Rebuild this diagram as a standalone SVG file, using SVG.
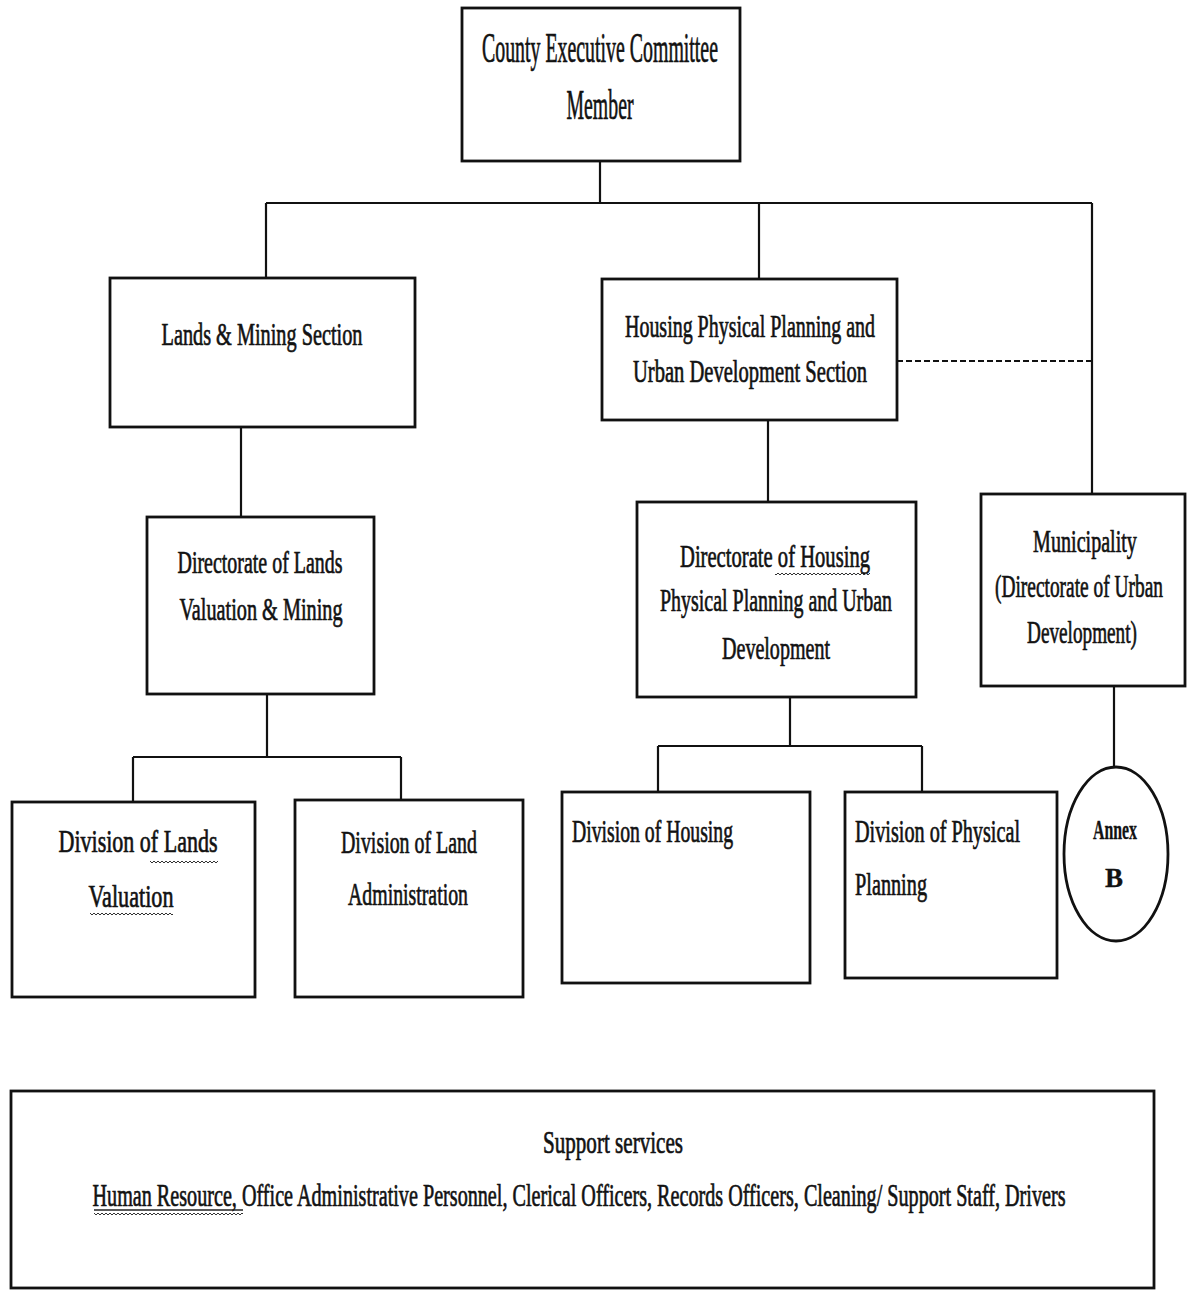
<svg xmlns="http://www.w3.org/2000/svg" width="1189" height="1296" viewBox="0 0 1189 1296">
  <style>
    .box { fill: #ffffff; stroke: #111111; stroke-width: 2.8; }
    .link { fill: none; stroke: #111111; stroke-width: 2.2; }
    .dashed { stroke-dasharray: 6 3; }
    .lbl { font-family: "Liberation Serif", "Times New Roman", serif; font-size: 32px; fill: #121212; stroke: #121212; stroke-width: 0.7; text-anchor: middle; }
    .left { text-anchor: start; }
    .big { font-size: 42px; }
    .small { font-size: 27px; font-weight: bold; stroke-width: 0.3; }
    .ul { stroke: #222222; stroke-width: 1.3; fill: none; }
  </style>
  <defs>
    <!-- zig-zag used for the proofing squiggles under some words -->
    <pattern id="wave" width="4" height="4" patternUnits="userSpaceOnUse">
      <path d="M0,3 L2,1 L4,3" fill="none" stroke="#333333" stroke-width="1"/>
    </pattern>
  </defs>

  <rect width="1189" height="1296" fill="#ffffff"/>

  <!-- connectors -->
  <g id="connectors">
    <path class="link" d="M600,161 V203"/>
    <path class="link" d="M266,203 H1092"/>
    <path class="link" d="M266,203 V278"/>
    <path class="link" d="M759,203 V279"/>
    <path class="link" d="M1092,203 V494"/>
    <path class="link dashed" d="M897,361 H1092"/>
    <path class="link" d="M241,427 V517"/>
    <path class="link" d="M768,420 V502"/>
    <path class="link" d="M267,694 V757 M133,757 H401 M133,757 V802 M401,757 V800"/>
    <path class="link" d="M790,697 V746 M658,746 H922 M658,746 V792 M922,746 V792"/>
    <path class="link" d="M1114,686 V767"/>
  </g>

  <g id="cec-member">
    <rect class="box" x="462" y="8" width="278" height="153"/>
    <text class="lbl big" x="600" y="62" textLength="236" lengthAdjust="spacingAndGlyphs">County Executive Committee</text>
    <text class="lbl big" x="600" y="119" textLength="67" lengthAdjust="spacingAndGlyphs">Member</text>
  </g>

  <g id="lands-mining-section">
    <rect class="box" x="110" y="278" width="305" height="149"/>
    <text class="lbl" x="262" y="345" textLength="201" lengthAdjust="spacingAndGlyphs">Lands &amp; Mining Section</text>
  </g>

  <g id="housing-section">
    <rect class="box" x="602" y="279" width="295" height="141"/>
    <text class="lbl" x="750" y="337" textLength="250" lengthAdjust="spacingAndGlyphs">Housing Physical Planning and</text>
    <text class="lbl" x="750" y="382" textLength="234" lengthAdjust="spacingAndGlyphs">Urban Development Section</text>
  </g>

  <g id="directorate-lands">
    <rect class="box" x="147" y="517" width="227" height="177"/>
    <text class="lbl" x="260" y="573" textLength="165" lengthAdjust="spacingAndGlyphs">Directorate of Lands</text>
    <text class="lbl" x="261" y="620" textLength="163" lengthAdjust="spacingAndGlyphs">Valuation &amp; Mining</text>
  </g>

  <g id="directorate-housing">
    <rect class="box" x="637" y="502" width="279" height="195"/>
    <text class="lbl" x="775" y="567" textLength="190" lengthAdjust="spacingAndGlyphs">Directorate of  Housing</text>
    <rect x="775" y="571" width="95" height="4" fill="url(#wave)"/>
    <text class="lbl" x="776" y="611" textLength="232" lengthAdjust="spacingAndGlyphs">Physical Planning and Urban</text>
    <text class="lbl" x="776" y="659" textLength="108" lengthAdjust="spacingAndGlyphs">Development</text>
  </g>

  <g id="municipality">
    <rect class="box" x="981" y="494" width="204" height="192"/>
    <!-- narrow lines: compressed with a horizontal scale about the line centre -->
    <text class="lbl" transform="translate(1085,552) scale(0.6,1)" x="0" y="0" textLength="173" lengthAdjust="spacingAndGlyphs">Municipality</text>
    <text class="lbl" transform="translate(1079,597) scale(0.6,1)" x="0" y="0" textLength="280" lengthAdjust="spacingAndGlyphs">(Directorate of Urban</text>
    <text class="lbl" transform="translate(1082,643) scale(0.6,1)" x="0" y="0" textLength="183" lengthAdjust="spacingAndGlyphs">Development)</text>
  </g>

  <g id="annex-b">
    <ellipse class="box" cx="1116" cy="854" rx="52" ry="87"/>
    <text class="lbl small" x="1115" y="839" textLength="44" lengthAdjust="spacingAndGlyphs">Annex</text>
    <text class="lbl small" x="1114" y="887">B</text>
  </g>

  <g id="division-lands-valuation">
    <rect class="box" x="12" y="802" width="243" height="195"/>
    <text class="lbl" x="138" y="852" textLength="159" lengthAdjust="spacingAndGlyphs">Division of Lands</text>
    <rect x="150" y="860" width="68" height="4" fill="url(#wave)"/>
    <text class="lbl" x="131" y="907" textLength="85" lengthAdjust="spacingAndGlyphs">Valuation</text>
    <rect x="90" y="911" width="83" height="4" fill="url(#wave)"/>
  </g>

  <g id="division-land-administration">
    <rect class="box" x="295" y="800" width="228" height="197"/>
    <text class="lbl" x="409" y="853" textLength="136" lengthAdjust="spacingAndGlyphs">Division of Land</text>
    <text class="lbl" x="408" y="905" textLength="120" lengthAdjust="spacingAndGlyphs">Administration</text>
  </g>

  <g id="division-housing">
    <rect class="box" x="562" y="792" width="248" height="191"/>
    <text class="lbl left" x="572" y="842" textLength="161" lengthAdjust="spacingAndGlyphs">Division of Housing</text>
  </g>

  <g id="division-physical-planning">
    <rect class="box" x="845" y="792" width="212" height="186"/>
    <text class="lbl left" x="855" y="842" textLength="165" lengthAdjust="spacingAndGlyphs">Division of Physical</text>
    <text class="lbl left" x="855" y="895" textLength="72" lengthAdjust="spacingAndGlyphs">Planning</text>
  </g>

  <g id="support-services">
    <rect class="box" x="11" y="1091" width="1143" height="197"/>
    <text class="lbl" x="613" y="1153" textLength="140" lengthAdjust="spacingAndGlyphs">Support services</text>
    <text class="lbl" x="579" y="1206" textLength="973" lengthAdjust="spacingAndGlyphs">Human  Resource, Office Administrative Personnel, Clerical Officers,  Records Officers, Cleaning/ Support Staff, Drivers</text>
    <path class="ul" d="M94,1210 H243"/>
    <rect x="94" y="1213" width="149" height="4" fill="url(#wave)"/>
  </g>
</svg>
